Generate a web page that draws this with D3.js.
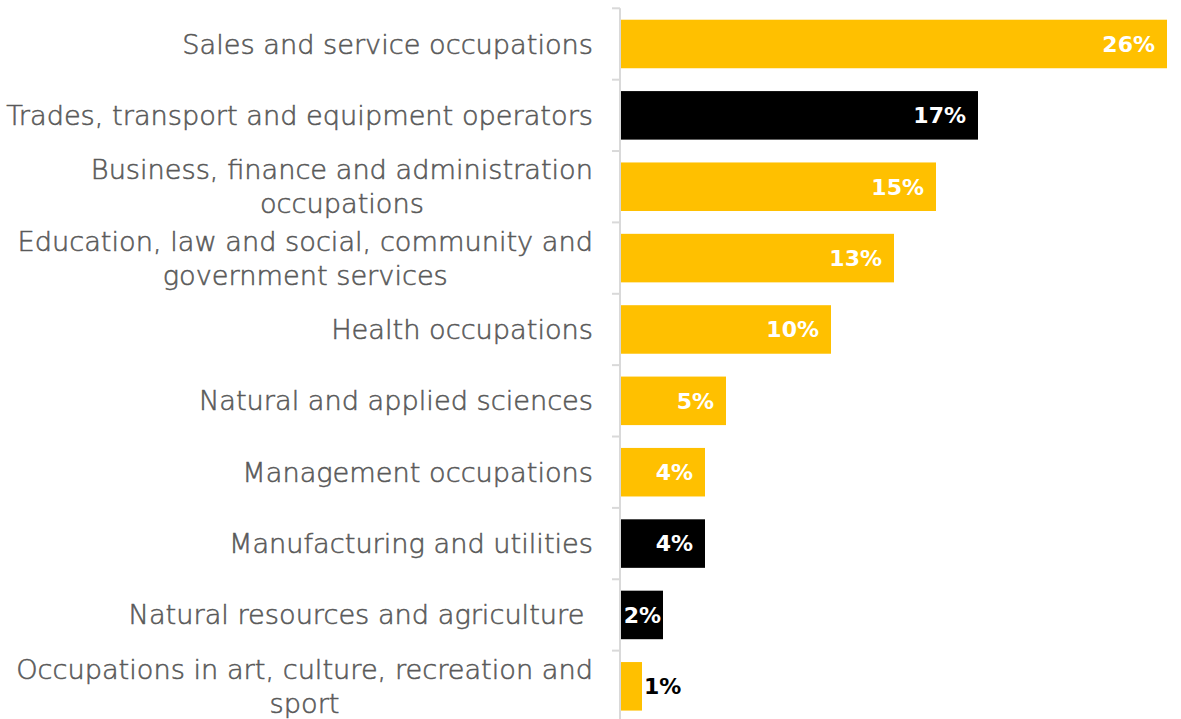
<!DOCTYPE html>
<html>
<head>
<meta charset="utf-8">
<script src="https://cdn.jsdelivr.net/npm/d3@7"></script>
<style>
  html, body { margin: 0; padding: 0; background: #ffffff; }
  svg { display: block; }
</style>
</head>
<body>
<svg id="chart" width="1181" height="719"></svg>
<script>
// Share of workers by occupation group
const categories = [
  ["Sales and service occupations"],
  ["Trades, transport and equipment operators"],
  ["Business, finance and administration", "occupations"],
  ["Education, law and social, community and", "government services"],
  ["Health occupations"],
  ["Natural and applied sciences"],
  ["Management occupations"],
  ["Manufacturing and utilities"],
  ["Natural resources and agriculture\u00a0"],
  ["Occupations in art, culture, recreation and", "sport"]
];
const values = [26, 17, 15, 13, 10, 5, 4, 4, 2, 1];
const highlighted = [false, true, false, false, false, false, false, true, true, false];

const svg = d3.select("#chart");
const fontFamily = "'DejaVu Sans', sans-serif";

const y = d3.scaleBand()
  .domain(d3.range(categories.length))
  .range([8.3, 722])
  .paddingInner(0.32)
  .paddingOuter(0.16);

const x = d3.scaleLinear().domain([0, 27]).range([621, 1188]);

// Bars
svg.append("g").selectAll("rect")
  .data(values)
  .join("rect")
  .attr("x", x(0))
  .attr("y", (d, i) => y(i))
  .attr("width", d => x(d) - x(0))
  .attr("height", y.bandwidth())
  .attr("fill", (d, i) => highlighted[i] ? "#000000" : "#FFC000");

// Category axis: vertical line with tick marks between categories
const axisX = 620;
const step = y.step();
const bounds = d3.range(categories.length + 1).map(i => y(i) - y.paddingInner() * step / 2);
const axisG = svg.append("g");
axisG.append("line")
  .attr("x1", axisX).attr("x2", axisX)
  .attr("y1", bounds[0]).attr("y2", 719)
  .attr("stroke", "#d9d9d9").attr("stroke-width", 2);
axisG.selectAll("line.tick")
  .data(bounds.filter(b => b < 719))
  .join("line")
  .attr("class", "tick")
  .attr("x1", 612).attr("x2", axisX)
  .attr("y1", d => d).attr("y2", d => d)
  .attr("stroke", "#d9d9d9").attr("stroke-width", 2);

// Category labels, right-aligned block; wrapped lines centred on each other
const labelRight = 593;
const lineGap = 34;
const labelsG = svg.append("g")
  .attr("font-family", fontFamily)
  .attr("font-size", 27.2)
  .attr("font-weight", 300)
  .attr("fill", "#595959")
  .attr("stroke", "#595959")
  .attr("stroke-width", 0.55);
categories.forEach((lines, i) => {
  const cy = y(i) + y.bandwidth() / 2;
  const g = labelsG.append("g");
  const texts = lines.map((ln, k) => g.append("text")
    .attr("y", cy + (k - (lines.length - 1) / 2) * lineGap)
    .attr("dy", "0.35em")
    .text(ln));
  const widths = texts.map(t => t.node().getComputedTextLength());
  const maxW = d3.max(widths);
  texts.forEach(t => t.attr("text-anchor", "middle").attr("x", labelRight - maxW / 2));
});

// Value labels: inside the bar end, or just past it when the bar is too short
svg.append("g")
  .attr("font-family", fontFamily)
  .attr("font-size", 22)
  .attr("font-weight", "bold")
  .selectAll("text")
  .data(values)
  .join("text")
  .attr("y", (d, i) => y(i) + y.bandwidth() / 2)
  .attr("dy", "0.36em")
  .attr("text-anchor", d => d < 2 ? "start" : "end")
  .attr("x", d => {
    const w = x(d) - x(0);
    return d < 2 ? x(d) + 2 : x(d) - Math.min(12, Math.max(1, (w - 38) / 2));
  })
  .attr("fill", d => d < 2 ? "#000000" : "#ffffff")
  .text(d => d + "%");
</script>
</body>
</html>
